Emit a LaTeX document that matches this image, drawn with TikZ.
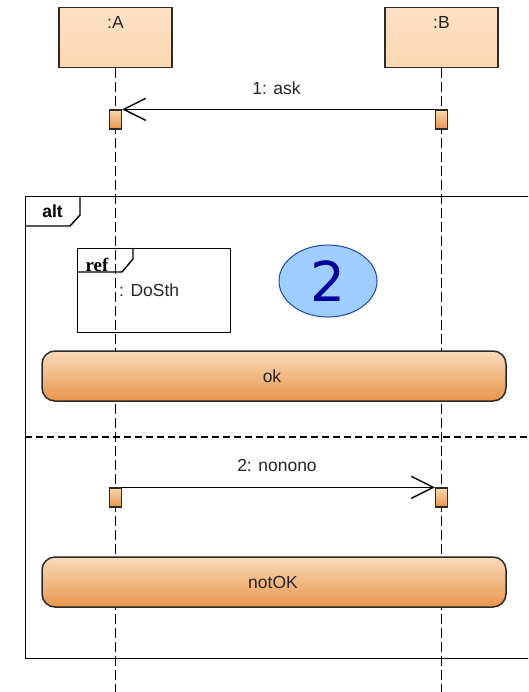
\documentclass[tikz,border=0pt]{standalone}
\usepackage{fontspec}
\setmainfont{Liberation Sans}
\newfontfamily\serifbold{Liberation Serif}
\newfontfamily\dejavu{DejaVu Sans}
\usetikzlibrary{arrows.meta,shapes.geometric}
\definecolor{lineclr}{HTML}{2B2B2B}
\definecolor{lifetop}{HTML}{FDE1C4}
\definecolor{lifebot}{HTML}{FBD7B2}
\definecolor{acttop}{HTML}{F9D6B1}
\definecolor{actbot}{HTML}{E8954C}
\definecolor{ovaltop}{HTML}{FADABA}
\definecolor{ovalbot}{HTML}{E8954C}
\definecolor{ellfill}{HTML}{9ECEFF}
\definecolor{elldraw}{HTML}{2443A6}
\definecolor{twoclr}{HTML}{00009A}
\tikzset{
  lifebox/.style={draw=lineclr, line width=1.4pt, top color=lifetop, bottom color=lifebot,
    minimum width=113pt, minimum height=60pt, inner sep=0pt},
  actbox/.style={draw=lineclr, line width=1.3pt, top color=acttop, bottom color=actbot,
    minimum width=12pt, minimum height=19pt, inner sep=0pt},
  lifeline/.style={draw=black, line width=1.4pt, dash pattern=on 10pt off 4pt},
  sepline/.style={draw=black, line width=1.4pt, dash pattern=on 7pt off 4pt},
  frameline/.style={draw=black, line width=1.4pt},
  msg/.style={draw=black, line width=1.4pt, -{Straight Barb[length=22pt,width=22pt,line width=1.4pt]}},
  lbl/.style={font=\fontsize{17.5}{20}\selectfont, inner sep=0pt, text=black!85},
  condbox/.style={draw=lineclr, line width=1.5pt, rounded corners=13pt, top color=ovaltop,
    bottom color=ovalbot, minimum width=464pt, minimum height=50pt, inner sep=0pt},
  numoval/.style={ellipse, draw=elldraw, line width=1pt, fill=ellfill, minimum width=98pt,
    minimum height=72pt, inner sep=0pt, text=twoclr, font=\dejavu\fontsize{55}{60}\selectfont},
}
\begin{document}
\begin{tikzpicture}[x=1pt,y=-1pt]
\useasboundingbox (0,0) rectangle (528,692);
\clip (0,0) rectangle (528,692);
\fill[white] (0,0) rectangle (528,692);

% lifeline heads
\node[lifebox] (A) at (115.5,37.5) {};
\node[lifebox] (B) at (441.5,37.5) {};
\node[lbl] (Alab) at (115.5,22) {:A};
\node[lbl] (Blab) at (441.5,22) {:B};

% lifeline ends
\coordinate (Aend) at (115.5,700);
\coordinate (Bend) at (441.5,700);
\draw[lifeline] (A.south) -- (Aend);
\draw[lifeline] (B.south) -- (Bend);

% alt frame
\node[frameline, minimum width=525pt, minimum height=462pt, inner sep=0pt, anchor=north west] (alt) at (25,196) {};
\draw[frameline] (25,226) -- (70,226) -- (80,215) -- (80,196);
\node[font=\bfseries\fontsize{17.5}{20}\selectfont, inner sep=0pt] (altlab) at (52.5,211) {alt};
\draw[sepline] (25,437) -- (540,437);

% ref frame
\node[frameline, minimum width=153pt, minimum height=84pt, inner sep=0pt, anchor=north west] (ref) at (77,248) {};
\draw[frameline] (77,272) -- (122,272) -- (133,259) -- (133,248);
\node[font=\serifbold\bfseries\fontsize{19}{20}\selectfont, inner sep=0pt, anchor=base] (reflab) at (97,271) {ref};
\node[lbl, anchor=west] (refname) at (119,290.5) {: DoSth};

% numbered oval
\node[numoval] (two) at (328,281) {2};

% activations
\node[actbox] (actA1) at (115.5,119.5) {};
\node[actbox] (actB1) at (441.5,119.5) {};
\node[actbox] (actA2) at (115.5,497.5) {};
\node[actbox] (actB2) at (441.5,497.5) {};

% messages
\draw[msg] (actB1.north west) -- (actA1.north east);
\node[lbl] (m1) at (276.5,88.5) {1: ask};
\draw[msg] (actA2.north east) -- (actB2.north west);
\node[lbl] (m2) at (277,465.5) {2: nonono};

% conditions
\node[condbox] (ok) at (274,376) {};
\node[lbl] (oklab) at (272,376) {ok};
\node[condbox] (notok) at (274,582) {};
\node[lbl] (notoklab) at (273,582) {notOK};
\end{tikzpicture}
\end{document}
